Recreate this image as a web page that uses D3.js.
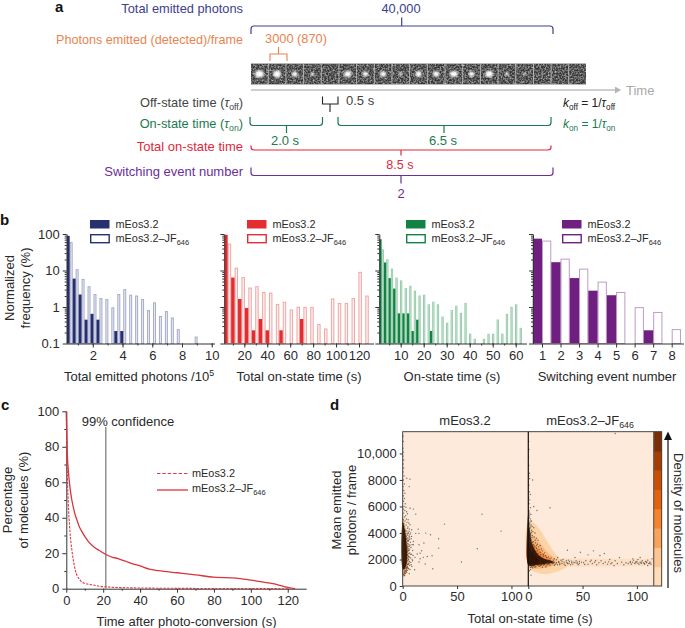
<!DOCTYPE html>
<html><head><meta charset="utf-8">
<script src="https://cdn.jsdelivr.net/npm/d3@7/dist/d3.min.js"></script>
<style>
html,body{margin:0;padding:0;background:#fff}
svg{display:block;font-family:"Liberation Sans",Arial,sans-serif}
text{fill:#2a2a2a}
.domain,.tick line{stroke:#333}
</style></head><body><div id="c"></div>
<script>
// ---- Panel b data: normalized frequency (%), null = empty bin
const photonsDark=[89,6,2.2,0.45,0.65,0.45,null,null,0.22,0.22];
const photonsLight=[58,10.5,5.7,3.6,2.2,1.7,1.6,0.95,2.2,3,2.1,2,1.6,0.8,1.3,0.55,0.75,0.5,0.24,null,null,0.15];
const onTimeDark=[95,6.4,1.66,0.94,0.23,0.47,0.23,null,0.23,null,null,0.47];
const onTimeLight=[53,11.6,6.4,3.3,3.6,2.5,2.4,1.18,1.35,0.83,0.98,0.98,0.98,0.33,0.25,1.66,1.25,1.25,1.7,8.9,2.0];
const stateDark=[72,16.6,6.2,3.2,0.67,0.67,0.67,0.22,0.45,null,null,0.22];
const stateLight=[37,19.6,10.9,6.2,5.2,3.2,3.7,2.7,2,2.1,1.15,1.35,1.15,0.53,0.36,0.8,1.05,0.67,1.25,0.18,0.13,null,0.13,0.18,0.18,0.44,0.18,0.63,0.98,1.15,0.26];
const switchDark=[74.6,16.9,6.2,2.8,2.1,null,0.23,null];
const switchLight=[64,20.5,10.9,4.8,2.5,0.96,0.71,0.24];
const switchCats=[1,2,3,4,5,6,7,8];
// ---- Panel c data: [time s, % molecules]
const curveJF=[[0,100],[0.3,85],[0.6,75],[1,68],[2,57],[3,50],[4,45],[5,41],[6,38],[7,35],[8,33],[10,29.5],[12,26.5],[15,23.5],[18,21.5],[22,19],[25,17.7],[28,17],[32,15.5],[36,14],[40,12.8],[45,11],[50,10.2],[60,9],[70,7.8],[80,6.5],[92,6],[100,4.8],[112,2.8],[118,1.2],[122,0.3],[124,0]];
const curveEos=[[0,100],[0.3,80],[0.6,62],[1,50],[2,32],[3,22],[4,15],[5,10],[6,7],[7,5.5],[8,4.2],[10,3],[14,2.2],[18,1.4],[22,1],[30,0.6],[40,0.4],[60,0.2],[90,0.1],[120,0]];
// ---- Panel d data: [on-state time s, photons/frame]
const scatterEos=[[73,5420],[90.5,4140],[68.6,2810],[54,1810],[38.4,4670],[33,3560],[33,2860],[27.7,1300],[25.6,3870],[21.3,3990],[15,3970],[12,3970],[14.3,4290],[12,5420],[9.8,5800],[6.7,5870],[6,7500],[3.7,8130],[6.7,8060],[19.5,3240],[15,3110],[17.4,2660],[16,2480],[13.4,2410],[22.6,2230],[27,2280],[19,2160],[16,2060],[15,1810],[20.7,1660],[11.3,2160],[9,1900],[11,1230],[6,930],[9.8,3110],[8.2,3740],[9.8,3360],[6.7,3900],[6.7,4620],[8.2,4240],
[0.3,11300],[0.5,10900],[0.2,10400],[0.8,10100],[0.3,9800],[1,9500],[0.4,9200],[0.9,8900],[0.3,8600],[1.2,8300],[0.5,8000],[1.5,7700],[0.4,7500],[1,7200],[2,7000],[0.6,6800],[1.6,6600],[0.8,6400],[2.4,6200],[1.2,6000],[3,5950],[0.6,5800],[2,5700],[3.6,5600],[1,5500],[4.4,5450],[2.8,5300],[1.5,5200],[3.4,5050],[5,5000],[2.2,4900],[4,4800],[5.6,4750],[3.2,4600],[4.8,4450],[6,4300],[3.8,4150],[5.2,4000],[4.4,3850],[6.4,3700],[4,3600],[5.4,3450],[7,3300],[4.6,3200],[3.8,3100],[6,3000],[7.6,2900],[4.4,2800],[5.2,2700],[3.6,2600],[6.6,2500],[8.2,2400],[4.2,2300],[5.6,2200],[7.2,2120],[3.8,2050],[4.8,1950],[6.2,1850],[3.4,1750],[5,1650],[7.8,1600],[3,1550],[4.2,1450],[2.6,1350],[5.4,1300],[1.8,1200],[3.2,1120],[1.2,1050],[2.4,950],[0.8,850],
[0.4,5000],[0.9,4700],[1.4,4500],[0.5,4350],[1.9,4250],[2.6,4150],[1,4050],[3,3950],[2,3850],[3.4,3750],[0.7,3700],[2.8,3600],[3.7,3500],[1.5,3400],[3.2,3300],[2.4,3200],[3.6,3000],[2.9,2800],[3.9,2700],[3.3,2450],[3.5,2150],[2.9,1900],[3.1,1700],[2.3,1500],[1.5,1400],
[4.2,4350],[4.7,3980],[5.8,3780],[4.9,3620],[6.1,3530],[5.1,3380],[4.3,3420],[5.6,3150],[6.8,3080],[4.9,2980],[4.1,2900],[5.7,2840],[6.3,2720],[4.7,2620],[4.2,2520],[5.9,2460],[7,2370],[4.5,2380],[5.1,2240],[6.4,2180],[4.4,2120],[5.5,2020],[4.1,1880],[5.7,1720],[4.5,1620],[6.3,1560],[3.7,1400],[4.8,1360],[3.4,1280],[4.4,1180],[2.7,1150],[1.9,1060],[3.6,1020],[1.4,900],[1.8,780],[5.9,4130],[7.4,4010],[7.8,3560],[8.6,3120],[9.2,2680],[9.6,2300],[8.7,2010],[7.4,1780],[8.4,1480],[6.7,1240]];
const scatterJF=[[80,11500],[0.3,10900],[0.6,10300],[0.2,9700],[0.5,9100],[0.9,8500],[4,8000],[0.4,8300],[1.3,8100],[0.5,7600],[1,7100],[2,6900],[0.4,6700],[1.4,6500],[0.7,6200],[20,5900],[5,6000],[8,5700],[2,5900],[0.6,5700],[1.3,5500],[2.4,5400],[0.9,5200],[1.8,5050],[3,4900],[1.2,4750],[2.5,4600],[3.6,4500],[5,4400],[1.5,4350],[3,4200],[4.2,4100],[6.2,4000],[2,3950],[3.6,3800],[5.4,3700],[7.5,3600],[9,3450],[2.6,3500],[4.6,3350],[6.6,3250],[8.4,3150],[11,3050],[3.4,3100],[5.8,2950],[7.6,2850],[10,2750],[13,2650],[15,2500],[4.4,2700],[6.8,2600],[9,2450],[11.4,2350],[14,2250],[17,2150],[20,2050],[23,1950],[5.6,2400],[8,2250],[10.4,2150],[12.6,2050],[15.6,1950],[18,1900],[21,1850],[24,1800],[26,1750],[13,1800],[16,1750],[19,1700],[22,1680],[25,1650],[28,1850],[30,1950],[27,2150],[31,1700],[29,1600],[33,1800],[35,1900],[32,2000],[36,1700],[38,1850],[34,1550],[40,1750],[37,1950],[42,1800],[44,1900],[39,1600],[45,1700],[47,1850],[43,2150],[36,2700],[41,1650],[1.5,1550],[3,1450],[5,1500],[7,1450],[9,1560],[2,1250],[2.5,820],[1,1150],[11,1530],[14,1580],[17,1520],
[49,1800],[51,1750],[53,1900],[55,1650],[57,1850],[59,1700],[60,2650],[61,1800],[63,1600],[65,1750],[67,1900],[69,1700],[70,2450],[71,1800],[73,1650],[75,2000],[77,1750],[79,1550],[80,1900],[55,2350],[48,2550],[66,2300],[82,1700],[84,2150],[86,1800],[88,1600],[90,1750],[92,1700],[94,1850],[95,1650],[96,1800],[97,1950],[98,1700],[99,1750],[100,1850],[101,2000],[102,1650],[103,1800],[104,1700],[105,1900],[106,1750],[107,1650],[108,1850],[109,1750],[110,1950],[111,1700],[112,1800],[113,1650],[114,2050],[110,1550],[103,2150],[96,2050],[107,1700],[101,1720],[104,1800],[109,1820],[112,1720],[99,1820],[94,1750],[46,1600],[52,1620],[58,1950],[62,1900],[74,1820],[76,1680],
[0.5,5600],[1.1,5350],[0.4,5100],[1.7,4900],[0.7,4650],[2.2,4450],[1,4250],[2.9,4050],[1.6,3850],[3.3,3650],[6.3,3450],[4.1,3300],[7.5,3050],[9.5,2950],[12,2800],[5,3100],[8.2,2650],[11,2550],[13.7,2400],[16,2300],[18.6,2200],[21,2120],[24,2060],[26,1980],[29,1720],[33,1650],[35.5,1780],[37.5,1700],[40,1880],[43,1760],[45,1800],[47,1700],[31,1860],[28,1780],[23,1720],[20,1780],[18,1640],[15,1620],[12,1580],[10,1480],[6,1420],[4,1380],[2,1420],[13,1420],[16,1440],[20,1560],[24,1560],[27,1600]];
const coreEos=[[0,4800],[1.5,4400],[3,3600],[3.8,2700],[3.6,1800],[2.4,1400],[1,1250],[0,1300]];
const glowEos=[[0,5200],[2,4700],[4,3700],[5.6,2500],[5,1400],[3,950],[1,700],[0,800]];
const contourJF=[
 [[0,4900],[6,4700],[12.3,4080],[18.5,3200],[24.7,2460],[31,1950],[38,1740],[34,1360],[25,1060],[15.4,900],[6,1060],[0.6,1360]],
 [[0,4200],[5,3800],[11,3200],[17,2600],[24,2100],[27,1700],[20,1450],[10,1300],[3,1320],[0,1500]],
 [[0,3700],[5,3200],[10,2700],[16,2300],[21,1950],[21,1650],[12,1530],[4,1480],[0,1600]],
 [[0,3400],[4,2900],[8,2500],[13,2150],[17,1900],[15,1650],[7,1600],[0,1650]],
 [[0,3000],[3,2600],[7,2200],[10,1900],[9,1700],[3,1650],[0,1700]]];
const coreJF=[[0,5600],[0.8,4700],[2,3900],[3.5,3200],[6,2750],[9,2350],[14,2080],[20,1950],[24,1800],[16,1680],[8,1580],[3,1500],[0,1600]];
const plateauBand=[[30,2100],[80,2050],[114.5,2050],[114.5,1500],[80,1480],[30,1450]];
const panelBackground="#fdeada";
const contourColors=["#fdd3a8","#fbb87e","#f28c3c","#d55a0c","#953506"];
const colorbarLevels=["#fddcb8","#fdc590","#f8a25a","#f5832e","#e3620b","#c94d03","#a53c03","#7a2d06"];
// ---- Panel a data
const frameSpots=[[4.4,3.6],[3.8,3.6],[2.8,2.6],[2,1.7],[0,0],[3.6,3],[2.8,2.5],[3,2.8],[1.8,1.8],[3,2.9],[3,2.8],[4,2.9],[2.8,2.6],[3.8,3.2],[2,1.8],[1.5,1.4],[0.9,0.9],[0,0],[0,0]];

const W=685,H=628;
const svg=d3.select("#c").append("svg").attr("width",W).attr("height",H);
const defs=svg.append("defs");
const noise=defs.append("filter").attr("id","noise").attr("x",0).attr("y",0).attr("width","100%").attr("height","100%");
noise.append("feTurbulence").attr("type","fractalNoise").attr("baseFrequency",0.6).attr("numOctaves",2).attr("seed",7);
noise.append("feColorMatrix").attr("type","matrix").attr("values","0 0 0 0 0.62  0 0 0 0 0.62  0 0 0 0 0.62  1.7 0 0 0 -0.6");
noise.append("feGaussianBlur").attr("stdDeviation",0.35);
defs.append("filter").attr("id","soft").append("feGaussianBlur").attr("stdDeviation",0.8);
const mk=defs.append("marker").attr("id","ag").attr("markerWidth",8).attr("markerHeight",8).attr("refX",5).attr("refY",3.5).attr("orient","auto").attr("markerUnits","userSpaceOnUse");
mk.append("path").attr("d","M0,0L6,3.5L0,7Z").attr("fill","#b5b5b5");

function rich(g,x,y,parts,o={}){
  const t=g.append("text").attr("x",x).attr("y",y).attr("dy","0.35em").attr("font-size",o.size||13)
    .attr("text-anchor",o.anchor||"start").style("fill",o.color||"#2a2a2a");
  if(o.rot!=null)t.attr("transform",`rotate(${o.rot},${x},${y})`);
  if(typeof parts==="string")parts=[parts];
  let pending=0;
  parts.forEach(p=>{
    const isO=typeof p==="object";
    const s=t.append("tspan").text(isO?p.t:p);
    if(isO&&p.i)s.attr("font-style","italic");
    let dy=pending;pending=0;
    if(isO&&p.sub){s.attr("font-size",(o.size||13)*0.68);dy+=3;pending=-3;}
    if(isO&&p.sup){s.attr("font-size",(o.size||13)*0.68);dy+=-5;pending=5;}
    if(dy)s.attr("dy",dy);
  });
  return t;
}

// ---------- panel a
const A=svg.append("g");
function bracket(x0,x1,yEnd,yLine,xTick,yTick,color){
  const r=3,s=Math.sign(yEnd-yLine);
  A.append("path").attr("fill","none").attr("stroke",color).attr("stroke-width",1.2)
   .attr("d",`M${x0},${yEnd}V${yLine+s*r}Q${x0},${yLine} ${x0+r},${yLine}H${x1-r}Q${x1},${yLine} ${x1},${yLine+s*r}V${yEnd}M${xTick},${yLine}V${yTick}`);
}
function square(x0,x1,yEnd,yLine,xTick,yTick,color){
  A.append("path").attr("fill","none").attr("stroke",color).attr("stroke-width",1.1)
   .attr("d",`M${x0},${yEnd}V${yLine}H${x1}V${yEnd}M${xTick},${yLine}V${yTick}`);
}
const navy="#3c4090",orange="#ea8350",green="#1c7a50",red="#e0293c",purple="#6b3096",dk="#444";
A.append("text").attr("x",55).attr("y",12).attr("font-size",15).attr("font-weight","bold").style("fill","#111").text("a");
rich(A,243,8.5,"Total emitted photons",{anchor:"end",color:navy,size:12.8});
rich(A,401,8.5,"40,000",{anchor:"middle",color:navy,size:12.8});
bracket(251,553,34,26,401.7,17.5,navy);
rich(A,243,39.5,"Photons emitted (detected)/frame",{anchor:"end",color:orange,size:12.6});
rich(A,296,39,"3000 (870)",{anchor:"middle",color:orange,size:12.8});
square(270,287,61,54,278.5,47,orange);
// image strip
const strip=A.append("g");
const fx=d3.scaleBand().domain(d3.range(frameSpots.length)).range([251,586]).paddingInner(0.05);
strip.append("rect").attr("x",251).attr("y",63).attr("width",335).attr("height",22).attr("fill","#b8b8b8");
strip.selectAll("rect.f").data(frameSpots).join("rect").attr("class","f").attr("x",(d,i)=>fx(i)).attr("y",64).attr("width",fx.bandwidth()).attr("height",20).attr("fill","#333");
strip.selectAll("rect.n").data(frameSpots).join("rect").attr("class","n").attr("x",(d,i)=>fx(i)).attr("y",64).attr("width",fx.bandwidth()).attr("height",20).attr("fill","#000").attr("filter","url(#noise)");
strip.selectAll("ellipse").data(frameSpots).join("ellipse").attr("cx",(d,i)=>fx(i)+fx.bandwidth()/2).attr("cy",74).attr("rx",d=>d[0]).attr("ry",d=>d[1]).attr("fill","#fff").attr("filter","url(#soft)");
A.append("line").attr("x1",251).attr("x2",620).attr("y1",90).attr("y2",90).attr("stroke","#cfcfcf").attr("stroke-width",1.8).attr("marker-end","url(#ag)");
rich(A,626,90,"Time",{color:"#a8a8a8"});
rich(A,243,103,["Off-state time (",{t:"τ",i:1},{t:"off",sub:1},")"],{anchor:"end",color:dk,size:12.8});
square(322.5,338,96.5,104,330,112,"#222");
rich(A,346,100,"0.5 s",{color:dk});
rich(A,563,103,[{t:"k",i:1},{t:"off",sub:1}," = 1/",{t:"τ",i:1},{t:"off",sub:1}],{color:"#222",size:12});
rich(A,243,123.5,["On-state time (",{t:"τ",i:1},{t:"on",sub:1},")"],{anchor:"end",color:green,size:12.8});
bracket(250,322.5,117,125.5,286.5,133,green);
bracket(338,551,117,125.5,444,133,green);
rich(A,285,140,"2.0 s",{anchor:"middle",color:green});
rich(A,443,140,"6.5 s",{anchor:"middle",color:green});
rich(A,563,123.5,[{t:"k",i:1},{t:"on",sub:1}," = 1/",{t:"τ",i:1},{t:"on",sub:1}],{color:green,size:12});
rich(A,243,146,"Total on-state time",{anchor:"end",color:red});
bracket(251,551,145.5,150,401,155.5,red);
rich(A,400,164.5,"8.5 s",{anchor:"middle",color:red,size:12.6});
rich(A,243,171,"Switching event number",{anchor:"end",color:purple});
bracket(251,553,167.5,175.5,401,183.5,purple);
rich(A,401,193,"2",{anchor:"middle",color:purple});

// ---------- panel b
const B=svg.append("g");
B.append("text").attr("x",0).attr("y",225).attr("font-size",15).attr("font-weight","bold").style("fill","#111").text("b");
const yLog=d3.scaleLog().domain([0.1,100]).range([343.5,234]);
const minor=[];[0.1,1,10].forEach(d=>{for(let k=2;k<10;k++)minor.push(d*k)});
function panelB(o){
  const g=B.append("g");
  const x=d3.scaleLinear().domain([o.vAt0,o.vEnd]).range([o.x0,o.x1]);
  const w=x(o.bin)-x(0);
  const bars=(arr,shift,cls)=>g.append("g").selectAll("rect").data(arr.map((v,i)=>({v,i})).filter(d=>d.v!=null)).join("rect")
    .attr("x",d=>x(o.start+o.bin*d.i)+shift*w/2+(cls?0.5:0)).attr("width",w/2-(cls?1:0))
    .attr("y",d=>yLog(d.v)).attr("height",d=>yLog(0.1)-yLog(d.v))
    .attr("fill",cls?o.lightFill:o.color).attr("stroke",cls?o.lightStroke:"none").attr("stroke-width",cls?1:0);
  bars(o.light,1,true);bars(o.dark,0,false);
  const ax=d3.axisBottom(x).tickValues(o.major).tickFormat(d3.format("d")).tickSize(4).tickSizeOuter(0);
  const gx=g.append("g").attr("transform","translate(0,343.5)").call(ax);
  gx.select(".domain").attr("d",`M${o.axL},0.5H${o.axR}`);
  gx.selectAll("text").attr("font-size",13).attr("font-family","inherit").attr("y",7);
  g.append("g").attr("transform","translate(0,343.5)").call(d3.axisBottom(x).tickValues(o.minorX).tickFormat("").tickSize(2)).select(".domain").remove();
  const ay=d3.axisLeft(yLog).tickValues([0.1,1,10,100]).tickFormat(o.yl?(d=>d):"").tickSize(4).tickSizeOuter(0);
  const gy=g.append("g").attr("transform",`translate(${o.axL},0)`).call(ay);
  gy.selectAll("text").attr("font-size",13).attr("font-family","inherit");
  g.append("g").attr("transform",`translate(${o.axL},0)`).call(d3.axisLeft(yLog).tickValues(minor).tickFormat("").tickSize(2)).select(".domain").remove();
  rich(g,o.labelX,376.5,o.label,{anchor:"middle"});
  // legend
  g.append("rect").attr("x",o.lx).attr("y",220).attr("width",19.5).attr("height",8.5).attr("fill",o.color);
  g.append("rect").attr("x",o.lx+0.7).attr("y",234.7).attr("width",18.5).attr("height",8).attr("fill","#fff").attr("stroke",o.color).attr("stroke-width",1.4);
  rich(g,o.lx+25.5,224.5,"mEos3.2",{size:10.9});
  rich(g,o.lx+25.5,238.5,["mEos3.2–JF",{t:"646",sub:1}],{size:10.9});
}
panelB({dark:photonsDark,light:photonsLight,color:"#27306f",lightFill:"#e9ebf4",lightStroke:"#a6abc9",
  x0:63,x1:211.75,vAt0:0,vEnd:10,start:0.25,bin:0.4,major:[2,4,6,8,10],minorX:d3.range(1,11),axL:66.7,axR:215,yl:true,lx:90,labelX:139,
  label:["Total emitted photons /10",{t:"5",sup:1}]});
panelB({dark:onTimeDark,light:onTimeLight,color:"#e52d31",lightFill:"#fdf0ee",lightStroke:"#eea6a4",
  x0:221.4,x1:359,vAt0:0,vEnd:120,start:2.5,bin:6,major:[20,40,60,80,100,120],minorX:d3.range(10,130,10),axL:224.3,axR:374,lx:247,labelX:299,
  label:"Total on-state time (s)"});
panelB({dark:stateDark,light:stateLight,color:"#128244",lightFill:"#dcefe2",lightStroke:"#98ccac",
  x0:377.7,x1:515.7,vAt0:0,vEnd:60,start:0.7,bin:2,major:[10,20,30,40,50,60],minorX:d3.range(5,65,5),axL:379.3,axR:527,lx:406,labelX:452,
  label:"On-state time (s)"});
panelB({dark:switchDark,light:switchLight,color:"#6f1f80",lightFill:"#fff",lightStroke:"#bd9cc6",
  x0:542,x1:671.7,vAt0:1,vEnd:8,start:0.5,bin:1.0,major:switchCats,minorX:[],axL:533,axR:684,lx:562,labelX:607,
  label:"Switching event number"});
rich(B,9,288,"Normalized",{anchor:"middle",rot:-90,size:13});
rich(B,25,288,"frequency (%)",{anchor:"middle",rot:-90,size:13});

// ---------- panel c
const C=svg.append("g");
C.append("text").attr("x",1)
 .attr("y",410).attr("font-size",15).attr("font-weight","bold").style("fill","#111").text("c");
const cx=d3.scaleLinear().domain([0,130]).range([66.3,306.2]);
const cy=d3.scaleLinear().domain([0,100]).range([588.7,411.3]);
const cLine=d3.line().x(d=>cx(d[0])).y(d=>cy(d[1])).curve(d3.curveMonotoneX);
const cax=C.append("g").attr("transform","translate(0,588.7)").call(d3.axisBottom(cx).tickValues(d3.range(0,130,20)).tickSize(4).tickSizeOuter(0));
C.append("g").attr("transform","translate(0,588.7)").call(d3.axisBottom(cx).tickValues(d3.range(10,130,20)).tickFormat("").tickSize(2)).select(".domain").remove();
const cay=C.append("g").attr("transform","translate(66.3,0)").call(d3.axisLeft(cy).tickValues(d3.range(0,101,20)).tickSize(4).tickSizeOuter(0));
C.append("g").attr("transform","translate(66.3,0)").call(d3.axisLeft(cy).tickValues(d3.range(10,100,20)).tickFormat("").tickSize(2)).select(".domain").remove();
[cax,cay].forEach(a=>a.selectAll("text").attr("font-size",13).attr("font-family","inherit"));
C.append("line").attr("x1",cx(21.4)).attr("x2",cx(21.4)).attr("y1",427).attr("y2",cy(0)).attr("stroke","#8a8a8a").attr("stroke-width",1.4);
C.append("path").attr("d",cLine(curveEos)).attr("fill","none").attr("stroke","#e0383f").attr("stroke-width",1.1).attr("stroke-dasharray","2.4,1.3");
C.append("path").attr("d",cLine(curveJF)).attr("fill","none").attr("stroke","#d8343c").attr("stroke-width",1.3);
rich(C,128,421,"99% confidence",{anchor:"middle"});
C.append("line").attr("x1",157).attr("x2",188).attr("y1",473.5).attr("y2",473.5).attr("stroke","#e0383f").attr("stroke-width",1.2).attr("stroke-dasharray","3.4,2");
C.append("line").attr("x1",157).attr("x2",188).attr("y1",490).attr("y2",490).attr("stroke","#d8343c").attr("stroke-width",1.3);
rich(C,192,473,"mEos3.2",{size:10.9});
rich(C,192,488.5,["mEos3.2–JF",{t:"646",sub:1}],{size:10.9});
rich(C,7,500,"Percentage",{anchor:"middle",rot:-90});
rich(C,23,500,"of molecules (%)",{anchor:"middle",rot:-90});
rich(C,186.5,621,"Time after photo-conversion (s)",{anchor:"middle"});

// ---------- panel d
const D=svg.append("g");
D.append("text").attr("x",330).attr("y",410).attr("font-size",15).attr("font-weight","bold").style("fill","#111").text("d");
const yTop=431.7,yBot=586;
const dy=d3.scaleLinear().domain([0,11640]).range([yBot,yTop]);
const dx1=d3.scaleLinear().domain([0,115.5]).range([402.7,528.3]);
const dx2=d3.scaleLinear().domain([0,115.5]).range([528.3,653.7]);
D.append("rect").attr("x",402.7).attr("y",yTop).attr("width",259).attr("height",yBot-yTop).attr("fill",panelBackground);
const poly=(x)=>d3.line().x(d=>x(d[0])).y(d=>dy(d[1])).curve(d3.curveCatmullRomClosed.alpha(0.5));
const g1=D.append("g"),g2=D.append("g");
g1.append("path").attr("d",poly(dx1)(glowEos)).attr("fill","#f8a25a").attr("opacity",.75);
g1.append("path").attr("d",poly(dx1)(coreEos)).attr("fill","#c4560c");
g2.append("path").attr("d",d3.line().x(d=>dx2(d[0])).y(d=>dy(d[1]))(plateauBand)+"Z").attr("fill","#fcdfc4");
contourJF.forEach((c,i)=>g2.append("path").attr("d",poly(dx2)(c)).attr("fill",contourColors[i]));
g1.append("path").attr("d",poly(dx1)(coreEos)).attr("fill","#1a0d06").attr("opacity",.8);
g2.append("path").attr("d",poly(dx2)(coreJF)).attr("fill","#140a05").attr("opacity",.8);
const dots=(g,x,data)=>g.selectAll("circle").data(data).join("circle").attr("cx",d=>x(d[0])).attr("cy",d=>dy(d[1])).attr("r",0.7).attr("fill","#1a1a1a").attr("opacity",.6);
dots(g1,dx1,scatterEos);dots(g2,dx2,scatterJF);
// colour bar
const cb=d3.scaleBand().domain(d3.range(colorbarLevels.length)).range([yBot,yTop]);
D.selectAll("rect.cb").data(colorbarLevels).join("rect").attr("class","cb").attr("x",653.7).attr("width",8).attr("y",(d,i)=>cb(i)).attr("height",cb.bandwidth()+0.5).attr("fill",d=>d);
D.append("rect").attr("x",402.7).attr("y",yTop).attr("width",259).attr("height",yBot-yTop).attr("fill","none").attr("stroke","#333").attr("stroke-width",.9);
D.append("line").attr("x1",528.3).attr("x2",528.3).attr("y1",yTop).attr("y2",yBot).attr("stroke","#111").attr("stroke-width",1.2);
D.append("line").attr("x1",653.7).attr("x2",653.7).attr("y1",yTop).attr("y2",yBot).attr("stroke","#6b5b50").attr("stroke-width",1.2);
const fx1=d3.axisBottom(dx1).tickValues([0,50,100]).tickSize(3).tickSizeOuter(0);
const fx2=d3.axisBottom(dx2).tickValues([0,50,100]).tickSize(3).tickSizeOuter(0);
[fx1,fx2].forEach(f=>{const a=D.append("g").attr("transform",`translate(0,${yBot})`).call(f);a.select(".domain").remove();a.selectAll("text").attr("font-size",13).attr("font-family","inherit");});
const fy=D.append("g").attr("transform","translate(402.7,0)").call(d3.axisLeft(dy).tickValues([0,2000,4000,6000,8000,10000]).tickFormat(d=>d===10000?"10,000":d).tickSize(3).tickSizeOuter(0));
fy.select(".domain").remove();fy.selectAll("text").attr("font-size",13).attr("font-family","inherit");
rich(D,465,420,"mEos3.2",{anchor:"middle"});
rich(D,590,420,["mEos3.2–JF",{t:"646",sub:1}],{anchor:"middle"});
rich(D,530,618,"Total on-state time (s)",{anchor:"middle"});
rich(D,336,510,"Mean emitted",{anchor:"middle",rot:-90});
rich(D,351,510,"photons / frame",{anchor:"middle",rot:-90});
D.append("line").attr("x1",668).attr("x2",668).attr("y1",588).attr("y2",438).attr("stroke","#111").attr("stroke-width",1.2);
D.append("path").attr("d","M664,440L668,431.5L672,440Z").attr("fill","#111");
rich(D,679,513,"Density of molecules",{anchor:"middle",rot:90});
</script></body></html>
